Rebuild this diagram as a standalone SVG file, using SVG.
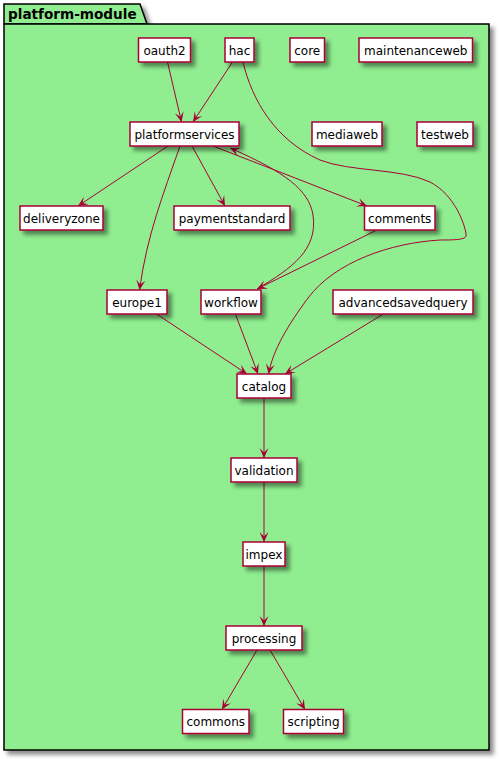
<svg xmlns="http://www.w3.org/2000/svg" width="499" height="759" viewBox="0 0 499 759">
<defs>
<filter id="sh" x="-20%" y="-20%" width="150%" height="160%">
<feGaussianBlur in="SourceAlpha" stdDeviation="2" result="b"/>
<feColorMatrix in="b" type="matrix" values="0 0 0 0 0  0 0 0 0 0  0 0 0 0 0  0 0 0 0.45 0" result="c"/>
<feOffset in="c" dx="4" dy="4" result="o"/>
<feMerge><feMergeNode in="o"/><feMergeNode in="SourceGraphic"/></feMerge>
</filter>
<marker id="ah" viewBox="-10 -5 11 10" refX="0" refY="0" markerWidth="11" markerHeight="10" markerUnits="userSpaceOnUse" orient="auto">
<path d="M0,0 L-10,-4.5 L-5.5,0 L-10,4.5 Z" fill="#A80036"/>
</marker>
<style>
.n rect{fill:#FFFFFF;stroke:#A80036;stroke-width:1.5;filter:url(#sh)}
.n text{font-family:"DejaVu Sans","Liberation Sans",sans-serif;font-size:12px;fill:#000000;text-anchor:middle}
.e path{fill:none;stroke:#A80036;stroke-width:1;marker-end:url(#ah)}
</style>
</defs>
<g id="platform-module">
<g filter="url(#sh)">
<path d="M4,24 L4,4 L140,4 L147,24 Z" fill="#90EE90" stroke="#000000" stroke-width="1.5"/>
<rect x="4" y="24" width="485" height="726" fill="#90EE90" stroke="#000000" stroke-width="1.5"/>
</g>
<text x="8" y="18.5" font-family="DejaVu Sans, Liberation Sans, sans-serif" font-size="13.6" font-weight="bold" fill="#000000">platform-module</text>
</g>
<g id="connectors" class="e">
<path d="M167.5,62 L181.5,122"/>
<path d="M232.5,62 L193,122"/>
<path d="M243,62 C252,100 275,140 320,160 C350,172 400,168 430,182 C455,195 465,225 466,234 C468,240 455,240 440,240 C390,243 335,262 308,298 C288,325 273,350 268.5,374"/>
<path d="M168,146 L78,206"/>
<path d="M192,146 L225,206"/>
<path d="M213,146 L367,206"/>
<path d="M180,146 C163,195 147,235 139.5,290"/>
<path d="M257,289 C292,268 318,250 313,215 C309,190 285,172 230,148"/>
<path d="M377,230 L257,289"/>
<path d="M155,313 L247,374"/>
<path d="M235,313 L258,374"/>
<path d="M385,313 L285,374"/>
<path d="M264,398 L264,458"/>
<path d="M264,482 L264,542"/>
<path d="M264,566 L264,626"/>
<path d="M257,650 L222,709.5"/>
<path d="M270,650 L305,709.5"/>
</g>
<g id="oauth2" class="n"><rect x="138.5" y="38" width="52" height="24"/><text x="164.5" y="54.5">oauth2</text></g>
<g id="hac" class="n"><rect x="225" y="38" width="29" height="24"/><text x="239.5" y="54.5">hac</text></g>
<g id="core" class="n"><rect x="290" y="38" width="34.5" height="24"/><text x="307.25" y="54.5">core</text></g>
<g id="maintenanceweb" class="n"><rect x="359" y="38" width="113.5" height="24"/><text x="415.75" y="54.5">maintenanceweb</text></g>
<g id="platformservices" class="n"><rect x="130" y="122" width="109" height="24"/><text x="184.5" y="138.5">platformservices</text></g>
<g id="mediaweb" class="n"><rect x="312" y="122" width="70" height="24"/><text x="347" y="138.5">mediaweb</text></g>
<g id="testweb" class="n"><rect x="417" y="122" width="56" height="24"/><text x="445" y="138.5">testweb</text></g>
<g id="deliveryzone" class="n"><rect x="20" y="206" width="83" height="24"/><text x="61.5" y="222.5">deliveryzone</text></g>
<g id="paymentstandard" class="n"><rect x="174" y="206" width="116" height="24"/><text x="232" y="222.5">paymentstandard</text></g>
<g id="comments" class="n"><rect x="364.5" y="206" width="70.5" height="24"/><text x="399.75" y="222.5">comments</text></g>
<g id="europe1" class="n"><rect x="107" y="290" width="60" height="24"/><text x="137" y="306.5">europe1</text></g>
<g id="workflow" class="n"><rect x="201" y="290" width="60" height="24"/><text x="231" y="306.5">workflow</text></g>
<g id="advancedsavedquery" class="n"><rect x="333" y="290" width="140" height="24"/><text x="403" y="306.5">advancedsavedquery</text></g>
<g id="catalog" class="n"><rect x="237" y="374" width="54" height="24"/><text x="264" y="390.5">catalog</text></g>
<g id="validation" class="n"><rect x="231" y="458" width="66" height="24"/><text x="264" y="474.5">validation</text></g>
<g id="impex" class="n"><rect x="243" y="542" width="42" height="24"/><text x="264" y="558.5">impex</text></g>
<g id="processing" class="n"><rect x="226" y="626" width="76" height="24"/><text x="264" y="642.5">processing</text></g>
<g id="commons" class="n"><rect x="182.5" y="709.5" width="66.5" height="24"/><text x="215.75" y="726">commons</text></g>
<g id="scripting" class="n"><rect x="283.5" y="709.5" width="60" height="24"/><text x="313.5" y="726">scripting</text></g>
</svg>
